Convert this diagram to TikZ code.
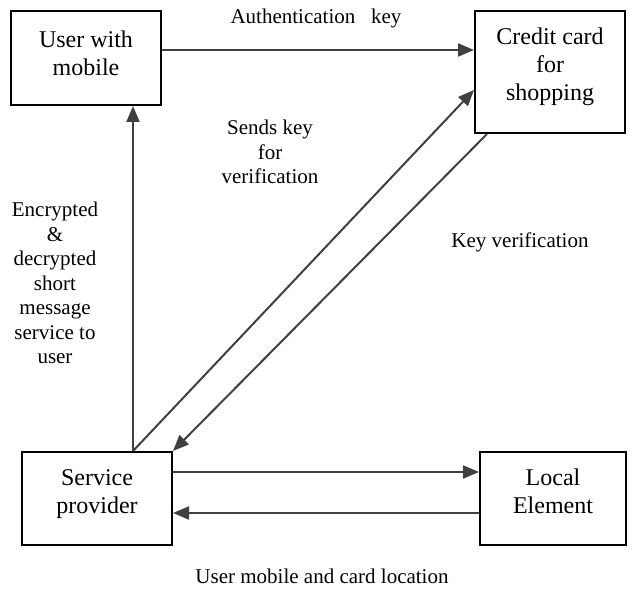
\documentclass[tikz,border=0pt]{standalone}
\usepackage{fontspec}
\setmainfont{Liberation Serif}
\usetikzlibrary{arrows.meta}
\begin{document}
\begin{tikzpicture}[x=1pt,y=-1pt,
  box/.style={draw=black,line width=2pt,rectangle,inner sep=0pt},
  boxtext/.style={align=center,inner sep=0pt,font=\fontsize{24}{28}\selectfont},
  arr/.style={draw=black!75,line width=2pt,-{Triangle[length=16pt,width=13pt]}},
  lbl/.style={align=center,font=\fontsize{21}{24.5}\selectfont,inner sep=0pt}]
\useasboundingbox (0,0) rectangle (632,591);
\node[box,minimum width=150pt,minimum height=94pt] (user) at (86,58) {};
\node[box,minimum width=150pt,minimum height=122pt] (credit) at (550,72) {};
\node[box,minimum width=150pt,minimum height=93pt] (sp) at (97,498.5) {};
\node[box,minimum width=146pt,minimum height=93pt] (le) at (553,498.5) {};
\node[boxtext] (user-t) at ([yshift=5pt]user.center) {User with\\mobile};
\node[boxtext] (credit-t) at ([yshift=5pt]credit.center) {Credit card\\for\\shopping};
\node[boxtext] (sp-t) at ([yshift=4pt]sp.center) {Service\\provider};
\node[boxtext] (le-t) at ([yshift=7pt]le.center) {Local\\Element};
\draw[arr] ([yshift=8pt]user.east) coordinate (a1) -- (a1 -| credit.west);
\draw[arr] ([xshift=36pt]sp.north) coordinate (a2) -- (a2 |- user.south);
\draw[arr] (a2) -- ([yshift=-18pt]credit.west);
\draw[arr] ([xshift=-63pt]credit.south) -- (sp.north east);
\draw[arr] ([yshift=26.5pt]sp.east) coordinate (a3) -- (a3 -| le.west);
\draw[arr] ([yshift=-14.5pt]le.west) coordinate (a4) -- (a4 -| sp.east);
\node[lbl] (l1) at (316,18) {Authentication\ \ \ key};
\node[lbl] (l2) at (270,152) {Sends key\\for\\verification};
\node[lbl] (l3) at (520,242) {Key verification};
\node[lbl] (l4) at (55,283) {Encrypted\\\&\\decrypted\\short\\message\\service to\\user};
\node[lbl] (l5) at (322,576) {User mobile and card location};
\end{tikzpicture}
\end{document}
